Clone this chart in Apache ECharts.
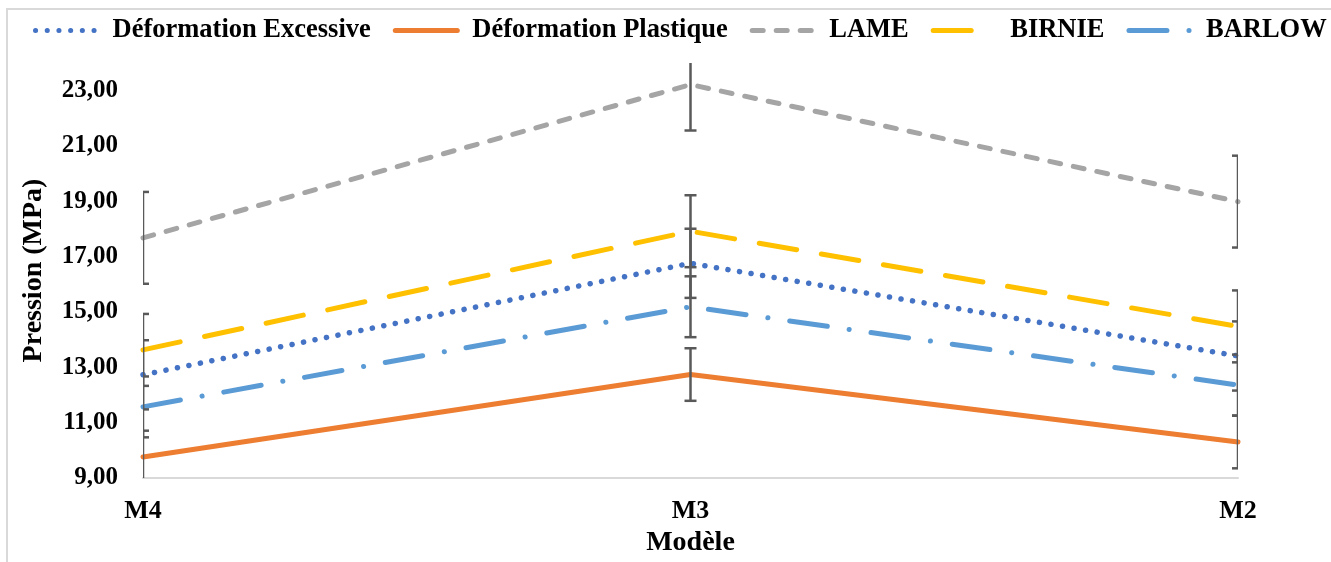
<!DOCTYPE html>
<html>
<head>
<meta charset="utf-8">
<script src="https://cdn.jsdelivr.net/npm/echarts@6/dist/echarts.min.js"></script>
<style>
  html, body { margin: 0; padding: 0; background: #ffffff; }
  #chart { width: 1331px; height: 562px; }
</style>
</head>
<body>
<div id="chart"></div>
<script>
// Models on the horizontal axis
const categories = ['M4', 'M3', 'M2'];

// Pressure values (MPa) per criterion
const deformationExcessive = [12.73, 16.76, 13.41];
const deformationPlastique = [9.76, 12.74, 10.30];
const lame = [17.68, 23.22, 18.99];
const birnie = [13.63, 17.92, 14.48];
const barlow = [11.57, 15.19, 12.36];

// Error bar half-widths (MPa) per criterion
const errExcessive = [1.25, 1.25, 1.25];
const errPlastique = [0.95, 0.95, 0.95];
const errLame = [1.66, 1.66, 1.66];
const errBirnie = [1.30, 1.30, 1.30];
const errBarlow = [1.10, 1.10, 1.10];

// Axis labels and titles
const yAxisTitle = 'Pression (MPa)';
const xAxisTitle = 'Modèle';
const seriesNames = ['Déformation Excessive', 'Déformation Plastique', 'LAME', 'BIRNIE', 'BARLOW'];

const FONT = '"Liberation Serif", "Times New Roman", serif';

const seriesValues = [deformationExcessive, deformationPlastique, lame, birnie, barlow];
const seriesErrors = [errExcessive, errPlastique, errLame, errBirnie, errBarlow];
const colors = ['#4472C4', '#ED7D31', '#A5A5A5', '#FFC000', '#5B9BD5'];
const dashes = [
  [0.1, 11.6],          // round dots
  'solid',
  [11, 13],             // dashes
  [38, 25],             // long dashes
  [38, 22, 0.1, 22]     // long dash + dot
];
const widths = [5.5, 5, 5, 5, 5];

const lineSeries = seriesNames.map((name, i) => ({
  name: name,
  type: 'line',
  data: seriesValues[i],
  symbol: 'none',
  z: 2,
  lineStyle: {
    color: colors[i],
    width: widths[i],
    type: dashes[i],
    cap: 'round',
    join: 'round'
  },
  itemStyle: { color: colors[i] }
}));

// Error bars: [category index, value, half-width]
const errorData = [];
seriesValues.forEach((vals, s) => {
  vals.forEach((v, k) => errorData.push([k, v, seriesErrors[s][k]]));
});

const errorSeries = {
  type: 'custom',
  coordinateSystem: 'cartesian2d',
  clip: true,
  z: 5,
  silent: true,
  encode: { x: 0, y: 1 },
  data: errorData,
  renderItem: function (params, api) {
    const x = api.value(0);
    const v = api.value(1);
    const e = api.value(2);
    const top = api.coord([x, v + e]);
    const bot = api.coord([x, v - e]);
    const half = 6;
    const style = { stroke: '#595959', lineWidth: 2.5 };
    return {
      type: 'group',
      children: [
        { type: 'line', shape: { x1: top[0], y1: top[1], x2: bot[0], y2: bot[1] }, style: style },
        { type: 'line', shape: { x1: top[0] - half, y1: top[1], x2: top[0] + half, y2: top[1] }, style: style },
        { type: 'line', shape: { x1: bot[0] - half, y1: bot[1], x2: bot[0] + half, y2: bot[1] }, style: style }
      ]
    };
  }
};

const chart = echarts.init(document.getElementById('chart'), null, { renderer: 'canvas' });

chart.setOption({
  animation: false,
  backgroundColor: '#ffffff',
  textStyle: { fontFamily: FONT },
  graphic: [{
    type: 'rect',
    shape: { x: 7, y: 9, width: 1340, height: 570 },
    style: { fill: 'none', stroke: '#d9d9d9', lineWidth: 2 },
    silent: true,
    z: -1
  }],
  legend: {
    data: seriesNames,
    left: 33,
    top: 17,
    width: 1400,
    padding: 0,
    itemWidth: 62,
    itemHeight: 14,
    itemGap: 22,
    itemStyle: { opacity: 0 },
    lineStyle: { width: 5, cap: 'round' },
    textStyle: {
      fontFamily: FONT,
      fontWeight: 'bold',
      fontSize: 26.5,
      color: '#000000',
      padding: [0, 0, 0, 10]
    }
  },
  grid: {
    left: 143,
    right: 93,
    top: 63,
    bottom: 84,
    containLabel: false
  },
  xAxis: {
    type: 'category',
    data: categories,
    boundaryGap: false,
    axisLine: { show: true, lineStyle: { color: '#d9d9d9', width: 2 } },
    axisTick: { show: false },
    splitLine: { show: false },
    axisLabel: {
      margin: 20,
      fontFamily: FONT,
      fontWeight: 'bold',
      fontSize: 26,
      color: '#000000'
    },
    name: xAxisTitle,
    nameLocation: 'middle',
    nameGap: 51,
    nameTextStyle: {
      fontFamily: FONT,
      fontWeight: 'bold',
      fontSize: 28,
      color: '#000000'
    }
  },
  yAxis: {
    type: 'value',
    min: 9,
    max: 24,
    interval: 2,
    axisLine: { show: false },
    axisTick: { show: false },
    splitLine: { show: false },
    axisLabel: {
      margin: 25,
      showMaxLabel: false,
      fontFamily: FONT,
      fontWeight: 'bold',
      fontSize: 25,
      color: '#000000',
      formatter: function (v) { return v.toFixed(2).replace('.', ','); }
    },
    name: yAxisTitle,
    nameLocation: 'middle',
    nameGap: 95,
    nameRotate: 90,
    nameTextStyle: {
      fontFamily: FONT,
      fontWeight: 'bold',
      fontSize: 28,
      color: '#000000'
    }
  },
  series: lineSeries.concat([errorSeries])
});
</script>
</body>
</html>
